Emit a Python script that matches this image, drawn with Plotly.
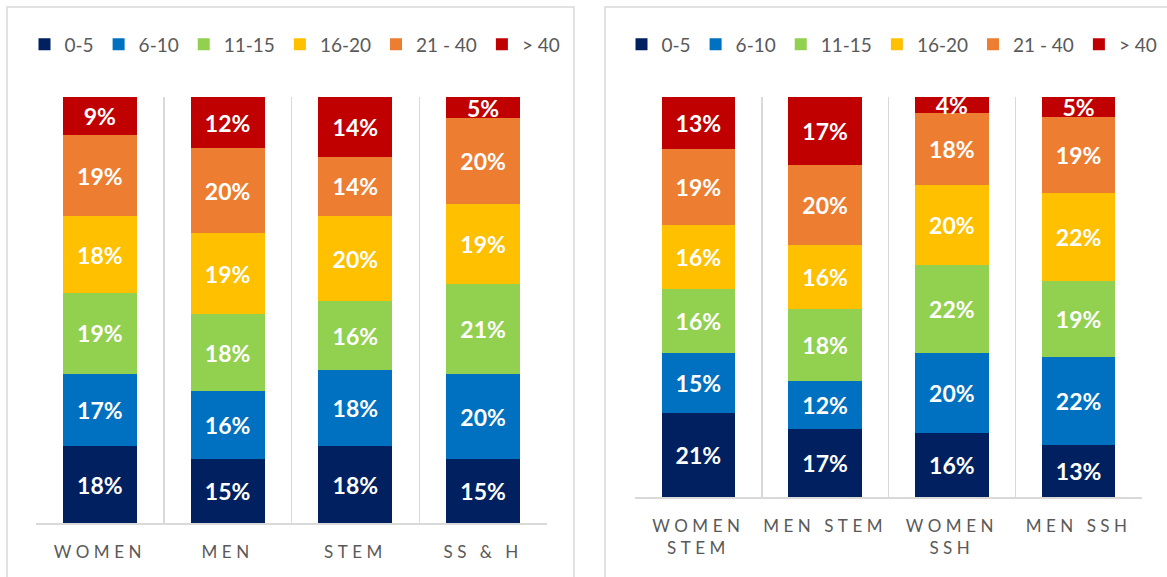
import plotly.graph_objects as go

series_names = ["0-5", "6-10", "11-15", "16-20", "21 - 40", "> 40"]
colors = ["#002060", "#0070C0", "#92D050", "#FFC000", "#ED7D31", "#C00000"]

left_categories = ["WOMEN", "MEN", "STEM", "SS & H"]
left_values = [
    [18, 15, 18, 15],   # 0-5
    [17, 16, 18, 20],   # 6-10
    [19, 18, 16, 21],   # 11-15
    [18, 19, 20, 19],   # 16-20
    [19, 20, 14, 20],   # 21 - 40
    [9, 12, 14, 5],     # > 40
]

right_categories = ["WOMEN<br>STEM", "MEN STEM", "WOMEN<br>SSH", "MEN SSH"]
right_values = [
    [21, 17, 16, 13],   # 0-5
    [15, 12, 20, 22],   # 6-10
    [16, 18, 22, 19],   # 11-15
    [16, 16, 20, 22],   # 16-20
    [19, 20, 18, 19],   # 21 - 40
    [13, 17, 4, 5],     # > 40
]

W, H = 1167, 577
FONT = "Lato"
GRAY = "#595959"
GRID = "#d9d9d9"


def spaced(label):
    parts = label.split("<br>")
    return "<br>".join('<span style="letter-spacing:4.5px">%s</span>' % p for p in parts)


fig = go.Figure()

label_font = dict(color="white", size=23, family=FONT, weight="bold")

for i, name in enumerate(series_names):
    fig.add_trace(go.Bar(
        x=[spaced(c) for c in left_categories], y=left_values[i], name=name,
        marker=dict(color=colors[i], line=dict(width=0)),
        texttemplate="%{y}%", textposition="inside", insidetextanchor="middle",
        textangle=0, textfont=label_font,
        xaxis="x", yaxis="y", legend="legend", hoverinfo="skip",
    ))
for i, name in enumerate(series_names):
    fig.add_trace(go.Bar(
        x=[spaced(c) for c in right_categories], y=right_values[i], name=name,
        marker=dict(color=colors[i], line=dict(width=0)),
        texttemplate="%{y}%", textposition="inside", insidetextanchor="middle",
        textangle=0, textfont=label_font,
        xaxis="x2", yaxis="y2", legend="legend2", hoverinfo="skip",
    ))

axis_common = dict(
    type="category", tickson="boundaries", showgrid=True, gridcolor=GRID, gridwidth=1.5,
    showline=True, linecolor=GRID, linewidth=1.5, ticks="", zeroline=False,
    tickangle=0, automargin=False,
    tickfont=dict(size=17, color=GRAY, family=FONT), ticklabelstandoff=13,
)
yaxis_common = dict(range=[0, 100], showgrid=False, showticklabels=False, zeroline=False,
                    showline=False, ticks="", automargin=False)

legend_common = dict(orientation="h", yanchor="middle", y=1 - 44.5 / H,
                     font=dict(size=19, color=GRAY, family=FONT), itemwidth=30,
                     traceorder="normal", bgcolor="rgba(0,0,0,0)", xanchor="center")

fig.update_layout(
    width=W, height=H,
    margin=dict(l=0, r=0, t=0, b=0, autoexpand=False),
    paper_bgcolor="white", plot_bgcolor="white",
    barmode="stack", bargap=0.42,
    font=dict(family=FONT, color=GRAY),
    uniformtext=dict(minsize=23, mode="show"),
    xaxis=dict(domain=[36 / W, 547 / W], anchor="y", **axis_common),
    yaxis=dict(domain=[1 - 523 / H, 1 - 97 / H], anchor="x", **yaxis_common),
    xaxis2=dict(domain=[635 / W, 1142 / W], anchor="y2", **axis_common),
    yaxis2=dict(domain=[1 - 497 / H, 1 - 97 / H], anchor="x2", **yaxis_common),
    legend=dict(x=295 / W, **legend_common),
    legend2=dict(x=892 / W, **legend_common),
    shapes=[
        dict(type="rect", xref="paper", yref="paper", x0=7 / W, x1=574 / W, y0=-0.05, y1=1 - 7 / H,
             line=dict(color=GRID, width=1.5), fillcolor="rgba(0,0,0,0)", layer="below"),
        dict(type="rect", xref="paper", yref="paper", x0=605 / W, x1=1.05, y0=-0.05, y1=1 - 7 / H,
             line=dict(color=GRID, width=1.5), fillcolor="rgba(0,0,0,0)", layer="below"),
    ],
)

fig.write_html(
    "out.html",
    config={"displayModeBar": False, "staticPlot": True},
    post_script="document.body.style.margin='0';document.body.style.overflow='hidden';",
)
